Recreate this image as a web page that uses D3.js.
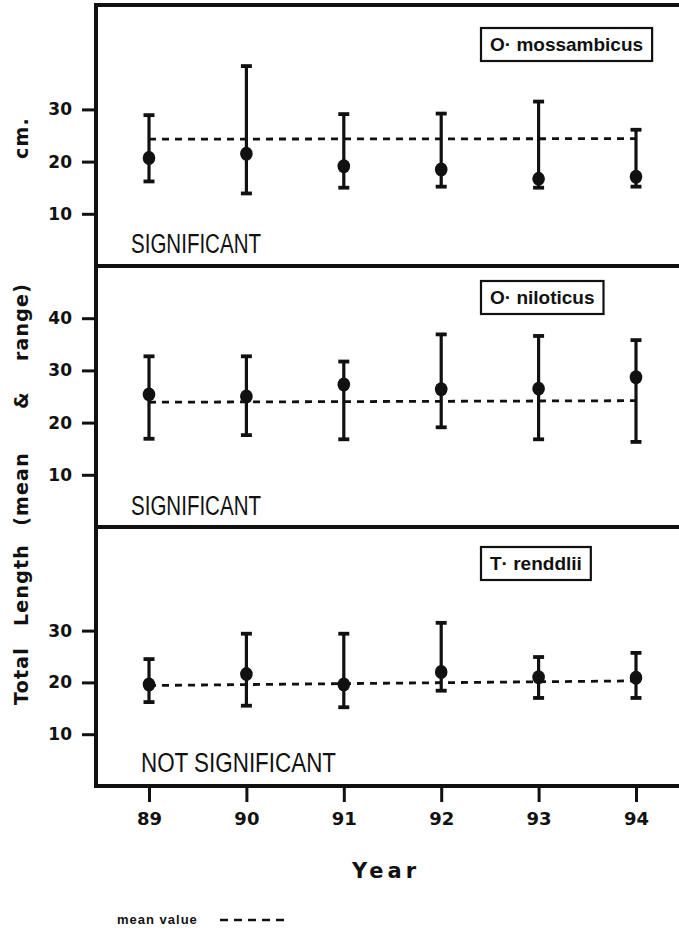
<!DOCTYPE html>
<html><head><meta charset="utf-8">
<script src="https://cdn.jsdelivr.net/npm/d3@7/dist/d3.min.js"></script>
<style>html,body{margin:0;padding:0;background:#fff;} svg{display:block;}</style>
</head><body>
<script>
// ---------- data ----------
const years = ["89", "90", "91", "92", "93", "94"];
const speciesNames = ["O· mossambicus", "O· niloticus", "T· renddlii"];
const significance = ["SIGNIFICANT", "SIGNIFICANT", "NOT SIGNIFICANT"];

const mossMean = [20.7, 21.5, 19.1, 18.5, 16.7, 17.1];
const mossMax  = [28.9, 38.3, 29.1, 29.2, 31.5, 26.1];
const mossMin  = [16.2, 13.9, 15.0, 15.2, 15.0, 15.2];
const mossOverall = [24.3, 24.4];

const niloMean = [25.4, 25.0, 27.3, 26.4, 26.5, 28.7];
const niloMax  = [32.7, 32.7, 31.7, 36.9, 36.6, 35.8];
const niloMin  = [16.9, 17.6, 16.8, 19.1, 16.8, 16.3];
const niloOverall = [23.9, 24.2];

const rendMean = [19.6, 21.6, 19.6, 22.0, 21.0, 20.9];
const rendMax  = [24.5, 29.4, 29.4, 31.5, 24.9, 25.7];
const rendMin  = [16.2, 15.5, 15.2, 18.4, 17.0, 17.0];
const rendOverall = [19.4, 20.3];

const panelTicks = [[10, 20, 30], [10, 20, 30, 40], [10, 20, 30]];
const yLabelWords = ["Total", "Length", "(mean", "&", "range)", "cm."];
const xTitle = "Year";
const legendText = "mean value";

// ---------- layout ----------
const W = 679, H = 931;
const frameLeft = 96, frameRight = 692;
const panelEdges = [5, 266, 527, 786];
const boxTops = [28, 281, 547];
const sigBaselines = [253, 515, 772];
const sigLeft = [131, 131, 141];
const sigWidth = [130, 130, 195];

const svg = d3.select("body").append("svg").attr("width", W).attr("height", H)
  .style("background", "#fff");

const x = d3.scalePoint().domain(years).range([149, 636]);

const panels = [
  {mean: mossMean, max: mossMax, min: mossMin, overall: mossOverall},
  {mean: niloMean, max: niloMax, min: niloMin, overall: niloOverall},
  {mean: rendMean, max: rendMax, min: rendMin, overall: rendOverall}
];

const ink = "#111";

panels.forEach((p, i) => {
  const top = panelEdges[i], bottom = panelEdges[i + 1];
  const y = d3.scaleLinear().domain([0, 50]).range([bottom, top]);
  const g = svg.append("g");

  const rows = years.map((yr, k) => ({yr, mean: p.mean[k], max: p.max[k], min: p.min[k]}));

  // overall mean dashed line
  const line = d3.line().x(d => x(d[0])).y(d => y(d[1]));
  g.append("path")
    .attr("d", line([[years[0], p.overall[0]], [years[years.length - 1], p.overall[1]]]))
    .attr("fill", "none").attr("stroke", ink).attr("stroke-width", 2.8)
    .attr("stroke-dasharray", "7,6");

  // error bars
  const eb = g.selectAll(".eb").data(rows).enter().append("g");
  eb.append("line").attr("x1", d => x(d.yr)).attr("x2", d => x(d.yr))
    .attr("y1", d => y(d.min)).attr("y2", d => y(d.max))
    .attr("stroke", ink).attr("stroke-width", 3.2);
  eb.append("line").attr("x1", d => x(d.yr) - 5.5).attr("x2", d => x(d.yr) + 5.5)
    .attr("y1", d => y(d.max)).attr("y2", d => y(d.max))
    .attr("stroke", ink).attr("stroke-width", 3.8);
  eb.append("line").attr("x1", d => x(d.yr) - 5.5).attr("x2", d => x(d.yr) + 5.5)
    .attr("y1", d => y(d.min)).attr("y2", d => y(d.min))
    .attr("stroke", ink).attr("stroke-width", 3.8);
  eb.append("ellipse").attr("cx", d => x(d.yr)).attr("cy", d => y(d.mean))
    .attr("rx", 6.3).attr("ry", 7).attr("fill", ink);

  // y axis
  const ax = svg.append("g").attr("transform", `translate(${frameLeft},0)`)
    .call(d3.axisLeft(y).tickValues(panelTicks[i]).tickSize(14).tickPadding(10)
      .tickFormat(d3.format("d")));
  ax.select(".domain").remove();
  ax.selectAll(".tick line").attr("stroke", ink).attr("stroke-width", 3);
  ax.selectAll(".tick text").attr("fill", ink)
    .style("font-family", "'DejaVu Sans', sans-serif").style("font-weight", "bold")
    .style("font-size", "17px");

  // species box
  const bx = 481;
  const rect = svg.append("rect").attr("x", bx).attr("y", boxTops[i])
    .attr("height", 33)
    .attr("fill", "none").attr("stroke", ink).attr("stroke-width", 2.2);
  const t = svg.append("text").attr("x", bx + 9).attr("y", boxTops[i] + 23)
    .text(speciesNames[i])
    .style("font-family", "'Liberation Sans', Arial, sans-serif").style("font-weight", "bold")
    .style("font-size", "19px").attr("fill", ink);
  const bb = t.node().getBBox();
  rect.attr("width", bb.width + 18);

  // significance text
  svg.append("text").attr("x", sigLeft[i]).attr("y", sigBaselines[i])
    .text(significance[i])
    .attr("textLength", sigWidth[i]).attr("lengthAdjust", "spacingAndGlyphs")
    .style("font-family", "'Liberation Sans', Arial, sans-serif")
    .style("font-size", "27px").attr("fill", ink);
});

// frame
const frame = svg.append("g").attr("stroke", ink).attr("stroke-width", 4);
frame.append("line").attr("x1", frameLeft).attr("x2", frameLeft)
  .attr("y1", panelEdges[0] - 2).attr("y2", panelEdges[3] + 2);
panelEdges.forEach(e => {
  frame.append("line").attr("x1", frameLeft).attr("x2", frameRight)
    .attr("y1", e).attr("y2", e);
});

// x axis
const xa = svg.append("g").attr("transform", `translate(0,${panelEdges[3]})`)
  .call(d3.axisBottom(x).tickSize(16).tickPadding(10));
xa.select(".domain").remove();
xa.selectAll(".tick line").attr("stroke", ink).attr("stroke-width", 3);
xa.selectAll(".tick text").attr("fill", ink)
  .style("font-family", "'DejaVu Sans', sans-serif").style("font-weight", "bold")
  .style("font-size", "18px");

// x title
svg.append("text").attr("x", 386).attr("y", 878).attr("text-anchor", "middle")
  .text(xTitle)
  .style("font-family", "'DejaVu Sans', sans-serif").style("font-weight", "bold")
  .style("font-size", "21px").style("letter-spacing", "4px").attr("fill", ink);

// y title (words spaced as in original)
const yWordCenters = [676, 585, 489, 400, 322, 138];
yLabelWords.forEach((w, k) => {
  svg.append("text")
    .attr("transform", `translate(28,${yWordCenters[k]}) rotate(-90)`)
    .attr("text-anchor", "middle").text(w)
    .style("font-family", "'DejaVu Sans', sans-serif").style("font-weight", "bold")
    .style("font-size", "19px").style("letter-spacing", "1.2px").attr("fill", ink);
});

// legend
svg.append("text").attr("x", 117).attr("y", 924).text(legendText)
  .style("font-family", "'Liberation Sans', Arial, sans-serif").style("font-weight", "bold")
  .style("font-size", "13px").style("letter-spacing", "1px").attr("fill", ink);
svg.append("line").attr("x1", 220).attr("x2", 286).attr("y1", 920).attr("y2", 920)
  .attr("stroke", ink).attr("stroke-width", 2.5).attr("stroke-dasharray", "8,6");
</script>
</body></html>
